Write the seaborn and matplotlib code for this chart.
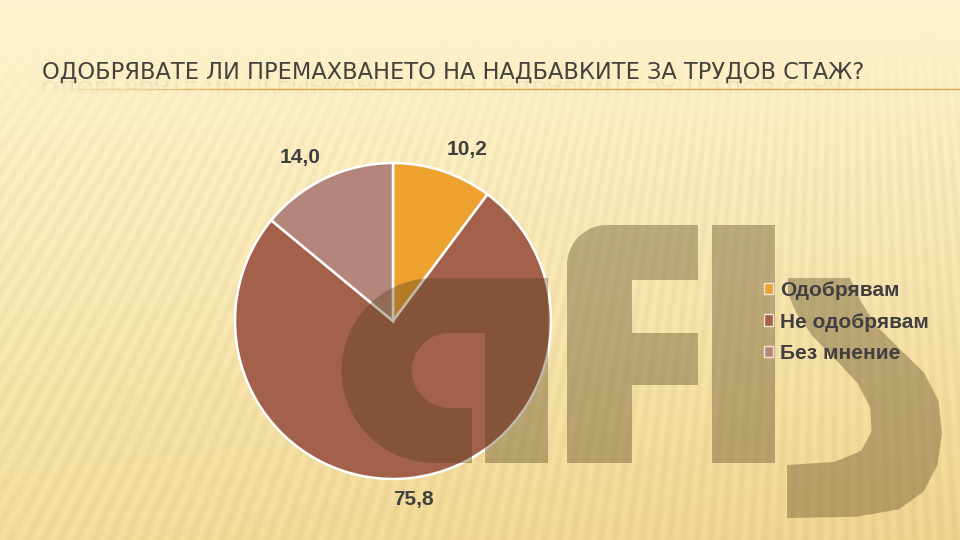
import numpy as np
import matplotlib
matplotlib.use("Agg")
import matplotlib.pyplot as plt
import seaborn as sns
from matplotlib.path import Path
from matplotlib.patches import PathPatch, Rectangle
from matplotlib.textpath import TextPath
from matplotlib.font_manager import FontProperties
from matplotlib.collections import LineCollection
import matplotlib.transforms as mtransforms

# ---------------- data ----------------
categories = ['Одобрявам', 'Не одобрявам', 'Без мнение']
values = [10.2, 75.8, 14.0]
value_labels = ['10,2', '75,8', '14,0']
title_text = 'ОДОБРЯВАТЕ ЛИ ПРЕМАХВАНЕТО НА НАДБАВКИТЕ ЗА ТРУДОВ СТАЖ?'

sns.set_theme(style='white')
plt.rcParams['font.family'] = ['Liberation Sans', 'DejaVu Sans']
colors = sns.color_palette(['#EDA12F', '#A3614B', '#B4857B'])
text_dark = '#404040'

W, H = 960, 540
fig = plt.figure(figsize=(9.6, 5.4), dpi=100)

# ---------------- background ----------------
bg = fig.add_axes([0, 0, 1, 1], zorder=0)
yy, xx = np.mgrid[0:H, 0:W] + 0.5
t = yy / H
top = np.array([254, 243, 206]) / 255
bot = np.array([242, 220, 155]) / 255
img = top[None, None, :] * (1 - t[..., None]) + bot[None, None, :] * t[..., None]
img = img - (xx / W)[..., None] * np.array([0.02, 0.04, 0.06])[None, None, :] * t[..., None]
fx, fy = 850.0, -1100.0
ang = np.arctan2(xx - fx, yy - fy)
stripe = np.sin(ang * 760)
fade = np.clip((yy - 30) / 120, 0, 1)
img = img + (stripe * 0.016 * fade)[..., None]
img = np.clip(img, 0, 1)
bg.imshow(img, extent=(0, W, H, 0), aspect='auto', interpolation='bilinear')
bg.set_xlim(0, W)
bg.set_ylim(H, 0)
bg.axis('off')

# ---------------- title ----------------
title_family = ['DejaVu Sans']
fp = FontProperties(family=title_family)
tp = TextPath((0, 0), title_text, size=100, prop=fp)
ext = tp.get_extents()
fs_px = 100 * 820 / ext.width
title_color = '#45423E'
baseline = 79
bg.text(42, baseline, title_text, fontsize=fs_px * 72 / 100, family=title_family,
        color=title_color, ha='left', va='baseline', zorder=5)
# faint reflection (decorative), clipped just below the title
tp2 = TextPath((0, 0), title_text, size=fs_px, prop=fp)
e2 = tp2.get_extents()
tr = mtransforms.Affine2D().translate(42 - e2.x0, baseline + 2)
clip_rect = Rectangle((0, baseline), W, 14, transform=bg.transData, facecolor='none')
for k, a in enumerate([0.07, 0.04]):
    refl = PathPatch(tr.transform_path(tp2), facecolor=title_color, edgecolor='none',
                     alpha=a, zorder=4)
    bg.add_patch(refl)
    refl.set_clip_path(Rectangle((0, baseline + 7 * k), W, 7, transform=bg.transData))
# underline fading in from the left
xs = np.linspace(40, 960, 200)
segs = [[(xs[k], 88.5), (xs[k + 1], 88.5)] for k in range(len(xs) - 1)]
alph = np.clip((xs[:-1] - 40) / 220, 0.05, 1.0)
lc = LineCollection(segs, colors=[(0.89, 0.63, 0.28, a) for a in alph], linewidths=1.0, zorder=6)
bg.add_collection(lc)

# ---------------- pie ----------------
R = 158
cx, cy = 393, 321
half = R * 1.25
pax = fig.add_axes([(cx - half) / W, (H - cy - half) / H, 2 * half / W, 2 * half / H], zorder=1)
pax.patch.set_alpha(0)
wedges, texts = pax.pie(values, labels=value_labels, colors=colors, startangle=90,
                        counterclock=False, radius=1, labeldistance=1.08,
                        wedgeprops=dict(edgecolor='white', linewidth=1.8),
                        textprops=dict(fontsize=15, fontweight='bold', color=text_dark))
for tx in texts:
    x, y = tx.get_position()
    ang_t = np.arctan2(y, x)
    c, s = np.cos(ang_t), np.sin(ang_t)
    tx.set_ha('left' if c > 0.2 else ('right' if c < -0.2 else 'center'))
    tx.set_va('bottom' if s > 0.2 else ('top' if s < -0.2 else 'center'))
pax.set_xlim(-1.25, 1.25)
pax.set_ylim(-1.25, 1.25)
pax.set_aspect('equal')
pax.axis('off')

# ---------------- watermark (decorative logo) ----------------
fg = fig.add_axes([0, 0, 1, 1], zorder=2)
fg.patch.set_alpha(0)
fg.set_xlim(0, W)
fg.set_ylim(H, 0)
fg.axis('off')


def arc(cxa, cya, r, t0, t1, n=40):
    tt = np.radians(np.linspace(t0, t1, n))
    return list(zip(cxa + r * np.cos(tt), cya + r * np.sin(tt)))


def chaikin(pts, keep, n=3):
    # smooth a closed polygon except for the listed corner indices
    p = [np.array(q, float) for q in pts]
    fixed = [i in keep for i in range(len(p))]
    for _ in range(n):
        newp, newf = [], []
        m = len(p)
        for i in range(m):
            a, b = p[i], p[(i + 1) % m]
            if fixed[i]:
                newp.append(a); newf.append(True)
            else:
                newp.append(a); newf.append(False)
            if fixed[i] and fixed[(i + 1) % m]:
                continue
            newp.append(0.75 * a + 0.25 * b); newf.append(False)
            newp.append(0.25 * a + 0.75 * b); newf.append(False)
        # drop original non-fixed points (classic Chaikin)
        p = [q for q, f, in zip(newp, newf)]
        fixed = newf
        p2, f2 = [], []
        for q, f in zip(p, fixed):
            p2.append(q); f2.append(f)
        p, fixed = p2, f2
    return [tuple(q) for q in p]


g_pts = [(434, 278), (548, 278), (548, 463), (485, 463), (485, 333), (449.5, 333)]
g_pts += arc(449.5, 370.5, 37.5, 270, 90)
g_pts += [(472, 408), (472, 463), (434, 463)]
g_pts += arc(434, 370.5, 92.5, 90, 270)

f_pts = [(567, 463), (567, 265)] + arc(607, 265, 40, 180, 270) + \
        [(698, 225), (698, 280), (632, 280), (632, 333), (698, 333), (698, 385),
         (632, 385), (632, 463)]
i_pts = [(712, 225), (775, 225), (775, 463), (712, 463)]
s_raw = [(788, 278), (850, 278), (860, 300), (873, 327), (900, 350), (927, 370),
         (942, 400), (943, 433), (940, 467), (927, 493), (900, 513), (870, 518),
         (787, 518), (787, 465), (843, 465), (863, 453), (875, 433), (873, 407),
         (860, 383), (837, 360), (810, 337), (793, 310), (788, 293)]
# light smoothing of the curved part of the "s"
s_pts = []
for i, p in enumerate(s_raw):
    if i in (0, 1, 12, 13, 22):
        s_pts.append(p)
    else:
        a = np.array(s_raw[i - 1]); b = np.array(p); c = np.array(s_raw[(i + 1) % len(s_raw)])
        s_pts.append(tuple(0.25 * a + 0.5 * b + 0.25 * c))

wm_color = (84 / 255, 63 / 255, 25 / 255)
for pts in (g_pts, f_pts, i_pts, s_pts):
    verts = pts + [pts[0]]
    codes = [Path.MOVETO] + [Path.LINETO] * (len(pts) - 1) + [Path.CLOSEPOLY]
    fg.add_patch(PathPatch(Path(verts, codes), facecolor=wm_color, edgecolor='none',
                           alpha=0.37, zorder=1))

# ---------------- legend ----------------
leg = fg.legend(wedges, categories, loc='upper left',
                bbox_to_anchor=(764 / W, 1 - 281 / H), bbox_transform=fig.transFigure,
                frameon=False, fontsize=15, handlelength=0.45, handleheight=0.45,
                handletextpad=0.33, labelspacing=0.6, borderpad=0, borderaxespad=0)
for txt in leg.get_texts():
    txt.set_color(text_dark)
    txt.set_fontweight('bold')
for h in leg.legend_handles:
    h.set_edgecolor('#F2E6D8')
    h.set_linewidth(1.0)
leg.set_zorder(10)

fig.savefig('out.png', dpi=100)
